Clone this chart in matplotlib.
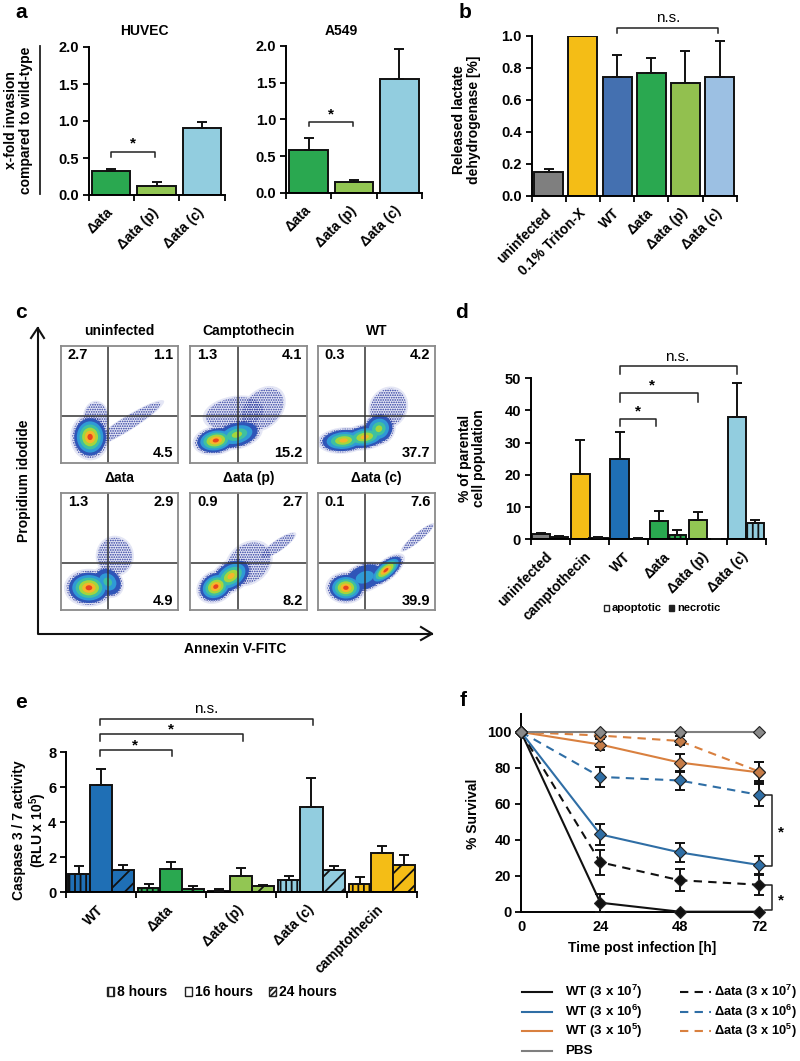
import matplotlib
matplotlib.use("Agg")
import matplotlib.pyplot as plt
from matplotlib.patches import Ellipse, Rectangle

plt.rcParams['font.family'] = ['Liberation Sans', 'DejaVu Sans']
plt.rcParams['font.weight'] = 'bold'
plt.rcParams['mathtext.fontset'] = 'custom'
plt.rcParams['mathtext.bf'] = 'Liberation Sans:bold'
plt.rcParams['mathtext.rm'] = 'Liberation Sans:bold'
plt.rcParams['hatch.linewidth'] = 1.3

GRAY = '#7f7f7f'
YELLOW = '#f4bd16'
BLUE = '#1f6fb5'
GREEN = '#2aa850'
LIME = '#92c653'
CYAN = '#92cddf'

# panel a
a_labels = ['Δata', 'Δata (p)', 'Δata (c)']
a_colors = [GREEN, LIME, CYAN]
huvec_vals = [0.32, 0.12, 0.91]
huvec_tops = [0.35, 0.18, 0.98]
a549_vals = [0.58, 0.15, 1.55]
a549_tops = [0.75, 0.18, 1.95]

# panel b
b_labels = ['uninfected', '0.1% Triton-X', 'WT', 'Δata', 'Δata (p)', 'Δata (c)']
b_colors = [GRAY, YELLOW, '#4470b0', GREEN, '#92c04f', '#9cc0e3']
b_vals = [0.15, 1.0, 0.74, 0.77, 0.705, 0.74]
b_tops = [0.17, 1.0, 0.88, 0.86, 0.905, 0.97]

# panel c
c_titles = ['uninfected', 'Camptothecin', 'WT', 'Δata', 'Δata (p)', 'Δata (c)']
c_numbers = [('2.7', '1.1', '4.5'), ('1.3', '4.1', '15.2'), ('0.3', '4.2', '37.7'),
             ('1.3', '2.9', '4.9'), ('0.9', '2.7', '8.2'), ('0.1', '7.6', '39.9')]
# density blobs: x, y, x radius, y radius, angle, top colour level
# level 0 only shows as loose speckle
c_blobs = [
    [(0.25, 0.22, 0.135, 0.16, 0, 5), (0.56, 0.33, 0.30, 0.05, 32, 0), (0.30, 0.38, 0.09, 0.12, 0, 0)],
    [(0.22, 0.19, 0.16, 0.10, 10, 5), (0.40, 0.24, 0.18, 0.10, 15, 3), (0.62, 0.46, 0.18, 0.13, 45, 0), (0.38, 0.42, 0.22, 0.12, 10, 0)],
    [(0.22, 0.19, 0.18, 0.09, 5, 4), (0.40, 0.22, 0.18, 0.09, 10, 4), (0.52, 0.29, 0.12, 0.11, 45, 3), (0.60, 0.47, 0.15, 0.13, 60, 0)],
    [(0.24, 0.19, 0.17, 0.13, 0, 5), (0.40, 0.24, 0.10, 0.12, 45, 2), (0.46, 0.46, 0.13, 0.14, 0, 0)],
    [(0.22, 0.20, 0.14, 0.11, 30, 5), (0.35, 0.29, 0.17, 0.11, 35, 4), (0.50, 0.40, 0.18, 0.14, 40, 0), (0.75, 0.55, 0.15, 0.04, 35, 0)],
    [(0.24, 0.19, 0.14, 0.11, 0, 5), (0.58, 0.34, 0.16, 0.07, 40, 5), (0.40, 0.28, 0.16, 0.10, 20, 1), (0.85, 0.62, 0.15, 0.03, 40, 0)],
]
c_levels = ['#2f55b8', '#2f9ad6', '#3fc0a0', '#a5d63c', '#f6b52a', '#e8431f']

# panel d
d_labels = ['uninfected', 'camptothecin', 'WT', 'Δata', 'Δata (p)', 'Δata (c)']
d_colors = [GRAY, YELLOW, BLUE, GREEN, LIME, CYAN]
d_apoptotic = [1.8, 20.2, 25.0, 5.6, 6.1, 38.0]
d_apoptotic_tops = [2.0, 30.7, 33.2, 8.7, 8.4, 48.4]
d_necrotic = [0.8, 0.5, 0.2, 1.4, 0.0, 5.0]
d_necrotic_tops = [1.1, 0.7, 0.3, 2.8, 0.0, 5.9]

# panel e
e_labels = ['WT', 'Δata', 'Δata (p)', 'Δata (c)', 'camptothecin']
e_colors = [BLUE, GREEN, LIME, CYAN, YELLOW]
e_8h = [1.05, 0.25, 0.10, 0.72, 0.47]
e_8h_tops = [1.50, 0.45, 0.17, 0.95, 0.87]
e_16h = [6.15, 1.35, 0.93, 4.87, 2.25]
e_16h_tops = [7.05, 1.72, 1.40, 6.52, 2.67]
e_24h = [1.27, 0.20, 0.37, 1.25, 1.58]
e_24h_tops = [1.55, 0.35, 0.42, 1.50, 2.15]

# panel f
f_hours = [0, 24, 48, 72]
wt_7 = [100, 5, 0, 0]
wt_7_err = [0, 5, 0, 0]
wt_6 = [100, 43, 33, 26]
wt_6_err = [0, 6, 5.5, 5]
wt_5 = [100, 93, 83, 77.5]
wt_5_err = [0, 3, 5, 6]
ata_7 = [100, 27.5, 17.5, 15]
ata_7_err = [0, 7, 6, 5.5]
ata_6 = [100, 75, 73, 65]
ata_6_err = [0, 5.5, 5.5, 6]
ata_5 = [100, 98, 95, 78]
ata_5_err = [0, 2, 2.5, 5.5]
pbs = [100, 100, 100, 100]
pbs_err = [0, 0, 0, 0]

W, H = 800, 1061
fig = plt.figure(figsize=(8, 10.61), dpi=100)


def px_axes(left, top, right, bottom):
    return fig.add_axes([left / W, 1 - bottom / H, (right - left) / W, (bottom - top) / H])


def style(ax, yticks, ylabels, fs=10.5):
    ax.spines['top'].set_visible(False)
    ax.spines['right'].set_visible(False)
    ax.spines['left'].set_linewidth(1.4)
    ax.spines['bottom'].set_linewidth(1.4)
    ax.set_yticks(yticks, ylabels, fontsize=fs, fontweight='bold')
    ax.tick_params(axis='y', length=4, width=1.3, pad=3)
    ax.patch.set_alpha(0)


def group_ticks(ax, labels, fs=10):
    n = len(labels)
    ax.set_xlim(0, n)
    ax.set_xticks(range(n + 1), [''] * (n + 1))
    ax.tick_params(axis='x', which='major', length=4, width=1.3)
    ax.set_xticks([i + 0.5 for i in range(n)], labels, minor=True, rotation=45, ha='right',
                  va='center', rotation_mode='anchor', fontsize=fs, fontweight='bold')
    ax.tick_params(axis='x', which='minor', length=0, pad=11)


def bars(ax, xs, vals, tops, colors, width, hatch=None):
    errs = [t - v for t, v in zip(tops, vals)]
    ax.bar(xs, vals, width, color=colors, edgecolor='#111111', linewidth=1.4, hatch=hatch, zorder=2)
    ax.errorbar(xs, vals, yerr=[[0] * len(errs), errs], fmt='none', ecolor='#111111',
                elinewidth=1.4, capsize=3.5, capthick=1.4, zorder=3)


def bracket(ax, x0, x1, top, bottom, text, xt, yt, fs=11):
    ax.plot([x0, x0, x1, x1], [bottom, top, top, bottom], color='#222222', lw=1.1, clip_on=False)
    weight = 'normal' if text == 'n.s.' else 'bold'
    ax.text(xt, yt, text, ha='center', va='center', fontsize=fs, fontweight=weight, clip_on=False)


# overlay in pixels for labels that sit outside the axes
ov = fig.add_axes([0, 0, 1, 1], zorder=10)
ov.set_xlim(0, W)
ov.set_ylim(H, 0)
ov.axis('off')


def t(x, y, s, fs=10, **kw):
    kw.setdefault('ha', 'center')
    kw.setdefault('va', 'center')
    kw.setdefault('multialignment', 'center')
    ov.text(x, y, s, fontsize=fs, fontweight=kw.pop('fontweight', 'bold'), **kw)


for x, y, s in [(21, 13, 'a'), (465, 12, 'b'), (21, 313, 'c'), (461, 313, 'd'), (21, 702, 'e'), (463, 700, 'f')]:
    t(x, y, s, fs=15)

# a
ax = px_axes(88.5, 47, 224.7, 195)
style(ax, [0, 0.5, 1, 1.5, 2], ['0.0', '0.5', '1.0', '1.5', '2.0'])
bars(ax, [0.5, 1.5, 2.5], huvec_vals, huvec_tops, a_colors, 0.85)
ax.set_ylim(0, 2)
group_ticks(ax, a_labels)
bracket(ax, 0.49, 1.47, 0.577, 0.52, '*', 0.98, 0.69)

ax = px_axes(286, 45.7, 422, 193)
style(ax, [0, 0.5, 1, 1.5, 2], ['0.0', '0.5', '1.0', '1.5', '2.0'])
bars(ax, [0.5, 1.5, 2.5], a549_vals, a549_tops, a_colors, 0.85)
ax.set_ylim(0, 2)
group_ticks(ax, a_labels)
bracket(ax, 0.5, 1.47, 0.968, 0.91, '*', 0.99, 1.07)

t(144, 30.7, 'HUVEC')
t(341.7, 30.7, 'A549')
t(18.5, 120, 'x-fold invasion\ncompared to wild-type', rotation=90, linespacing=1.05)
ov.plot([39.7, 39.7], [46, 194], color='#222222', lw=1.3)

# b
ax = px_axes(531.7, 35.7, 736.7, 195.7)
style(ax, [0, 0.2, 0.4, 0.6, 0.8, 1.0], ['0.0', '0.2', '0.4', '0.6', '0.8', '1.0'])
bars(ax, [i + 0.5 for i in range(6)], b_vals, b_tops, b_colors, 0.85)
ax.set_ylim(0, 1)
group_ticks(ax, b_labels)
bracket(ax, 2.5, 5.44, 1.05, 1.015, 'n.s.', 4.0, 1.11)
t(466.5, 120, 'Released lactate\ndehydrogenase [%]', rotation=90, linespacing=1.05)

# c
c_rows = [(345.7, 462.7), (493, 610)]
c_cols = [(60.7, 178.3), (190, 307.3), (317.7, 435.3)]
for i in range(6):
    top, bottom = c_rows[i // 3]
    left, right = c_cols[i % 3]
    ax = px_axes(left, top, right, bottom)
    ax.set_xlim(0, 1)
    ax.set_ylim(0, 1)
    ax.set_xticks([])
    ax.set_yticks([])
    for s in ax.spines.values():
        s.set_color('#8a8a8a')
        s.set_linewidth(1.3)
    # speckled fringe first, then one layer per colour level so blobs merge
    for bx, by, rx, ry, ang, peak in c_blobs[i]:
        ax.add_patch(Ellipse((bx, by), 2.5 * rx, 2.5 * ry, angle=ang, facecolor='#e4e6f5', edgecolor='none', lw=0))
    plt.rcParams['hatch.linewidth'] = 0.8
    for bx, by, rx, ry, ang, peak in c_blobs[i]:
        ax.add_patch(Ellipse((bx, by), 2.25 * rx, 2.25 * ry, angle=ang, facecolor='none', edgecolor='#2b3a9e',
                             lw=0, hatch='.......'))
    for level in range(len(c_levels)):
        for bx, by, rx, ry, ang, peak in c_blobs[i]:
            if level > peak or peak == 0:
                continue
            scale = 1 - level / (peak + 1)
            ax.add_patch(Ellipse((bx, by), 2 * rx * scale, 2 * ry * scale, angle=ang,
                                 color=c_levels[level], lw=0))
    ax.axvline(0.405, color='#333333', lw=1.1)
    ax.axhline(0.40, color='#333333', lw=1.1)
    tl, tr, br = c_numbers[i]
    ax.text(0.06, 0.92, tl, ha='left', va='center', fontsize=10.5, transform=ax.transAxes)
    ax.text(0.96, 0.92, tr, ha='right', va='center', fontsize=10.5, transform=ax.transAxes)
    ax.text(0.96, 0.08, br, ha='right', va='center', fontsize=10.5, transform=ax.transAxes)
    cy = 330.7 if i < 3 else 478
    t((left + right) / 2, cy, c_titles[i])

ov.plot([37.7, 37.7, 432], [328, 633.7, 633.7], color='#111111', lw=1.5)
ov.plot([31, 37.7, 44], [338, 328, 338], color='#111111', lw=1.5)
ov.plot([421, 432, 421], [627, 633.7, 640], color='#111111', lw=1.5)
t(24, 480.7, 'Propidium idodide', rotation=90)
t(235, 649, 'Annexin V-FITC')

# d
plt.rcParams['hatch.linewidth'] = 1.3
ax = px_axes(530.7, 378.3, 765.7, 539.3)
style(ax, [0, 10, 20, 30, 40, 50], ['0', '10', '20', '30', '40', '50'])
bars(ax, [i + 0.27 for i in range(6)], d_apoptotic, d_apoptotic_tops, d_colors, 0.47)
bars(ax, [i + 0.73 for i in range(6)], d_necrotic, d_necrotic_tops, d_colors, 0.47, hatch='|||')
ax.set_ylim(0, 50)
group_ticks(ax, d_labels)
bracket(ax, 2.27, 5.26, 53.9, 51.3, 'n.s.', 3.73, 56.7)
bracket(ax, 2.27, 4.26, 45.5, 42.7, '*', 3.09, 47.8)
bracket(ax, 2.27, 3.21, 37.4, 35.3, '*', 2.75, 39.8)
t(472, 458, '% of parental\ncell population', rotation=90, linespacing=1.05)
ov.add_patch(Rectangle((604, 605), 5, 5.5, facecolor='white', edgecolor='#222222', lw=1))
t(612, 608, 'apoptotic', fs=8, ha='left')
ov.add_patch(Rectangle((669, 605), 5, 5.5, facecolor='#222222', edgecolor='#222222', lw=1))
t(677, 608, 'necrotic', fs=8, ha='left')

# e
ax = px_axes(66, 752.3, 416.7, 892.3)
style(ax, [0, 2, 4, 6, 8], ['0', '2', '4', '6', '8'])
bars(ax, [i + 0.186 for i in range(5)], e_8h, e_8h_tops, e_colors, 0.314, hatch='|||')
bars(ax, [i + 0.5 for i in range(5)], e_16h, e_16h_tops, e_colors, 0.314)
bars(ax, [i + 0.814 for i in range(5)], e_24h, e_24h_tops, e_colors, 0.314, hatch='//')
ax.set_ylim(0, 8)
group_ticks(ax, e_labels)
bracket(ax, 0.48, 3.52, 9.89, 9.56, 'n.s.', 2.0, 10.5)
bracket(ax, 0.48, 2.52, 9.03, 8.65, '*', 1.5, 9.3)
bracket(ax, 0.48, 1.51, 8.11, 7.8, '*', 0.99, 8.4)
t(30.5, 830, 'Caspase 3 / 7 activity\n(RLU x 10$^{\\mathbf{5}}$)', rotation=90, linespacing=1.05)
ov.add_patch(Rectangle((107, 987), 7, 9, facecolor='white', edgecolor='#222222', lw=1, hatch='|||'))
t(117, 992, '8 hours', ha='left')
ov.add_patch(Rectangle((185, 987), 7, 9, facecolor='white', edgecolor='#222222', lw=1))
t(195, 992, '16 hours', ha='left')
ov.add_patch(Rectangle((269, 987), 7, 9, facecolor='white', edgecolor='#222222', lw=1, hatch='//////'))
t(279, 992, '24 hours', ha='left')

# f
ax = px_axes(521, 714, 759, 911.7)
style(ax, [0, 20, 40, 60, 80, 100], ['0', '20', '40', '60', '80', '100'])
F_BLACK = '#111111'
F_BLUE = '#2f6ea5'
F_ORANGE = '#d9803f'
series = [
    (wt_7, wt_7_err, F_BLACK, '-', F_BLACK),
    (ata_7, ata_7_err, F_BLACK, '--', F_BLACK),
    (wt_6, wt_6_err, F_BLUE, '-', F_BLUE),
    (ata_6, ata_6_err, F_BLUE, '--', F_BLUE),
    (wt_5, wt_5_err, F_ORANGE, '-', '#c67c47'),
    (ata_5, ata_5_err, F_ORANGE, '--', '#c67c47'),
    (pbs, pbs_err, GRAY, '-', '#8a8a8a'),
]
for vals, err, col, ls, mfc in series:
    ax.errorbar(f_hours, vals, yerr=err, fmt='none', ecolor='#111111', elinewidth=1.4,
                capsize=3.5, capthick=1.4, clip_on=False, zorder=3)
    ax.plot(f_hours, vals, color=col, ls=ls, lw=1.5, dashes=(4, 3) if ls == '--' else (None, None),
            zorder=4, clip_on=False)
    ax.plot(f_hours, vals, ls='none', marker='D', ms=6.5, mfc=mfc, mec='#222222', mew=0.8,
            zorder=5, clip_on=False)
ax.set_xlim(0, 72)
ax.set_ylim(0, 110)
ax.set_xticks(f_hours, ['0', '24', '48', '72'], fontsize=10.5, fontweight='bold')
ax.tick_params(axis='x', length=0, pad=6)
ax.plot([73.9, 75.8, 75.8, 73.9], [65, 65, 25.6, 25.6], color='#222222', lw=1.1, clip_on=False)
ax.plot([73.9, 75.8, 75.8, 73.9], [14.7, 14.7, 0.7, 0.7], color='#222222', lw=1.1, clip_on=False)
ax.text(78.6, 44, '*', ha='center', va='center', fontsize=11, clip_on=False)
ax.text(78.6, 6, '*', ha='center', va='center', fontsize=11, clip_on=False)
t(472.7, 814, '% Survival', rotation=90)
t(641.7, 948, 'Time post infection [h]')

# f legend
leg_y = [992, 1012, 1031, 1051]
leg_left = ['WT (3 x 10$^{\\mathbf{7}}$)', 'WT (3 x 10$^{\\mathbf{6}}$)', 'WT (3 x 10$^{\\mathbf{5}}$)', 'PBS']
leg_right = ['Δata (3 x 10$^{\\mathbf{7}}$)', 'Δata (3 x 10$^{\\mathbf{6}}$)', 'Δata (3 x 10$^{\\mathbf{5}}$)']
leg_cols = [F_BLACK, F_BLUE, F_ORANGE, GRAY]
for y, s, col in zip(leg_y, leg_left, leg_cols):
    ov.plot([522, 552], [y, y], color=col, lw=1.5)
    t(565, y, s, fs=9.6, ha='left')
for y, s, col in zip(leg_y, leg_right, leg_cols):
    ov.plot([680, 711], [y, y], color=col, lw=1.5, dashes=(4, 3))
    t(714, y, s, fs=9.3, ha='left')

fig.savefig('out.png', dpi=100)
